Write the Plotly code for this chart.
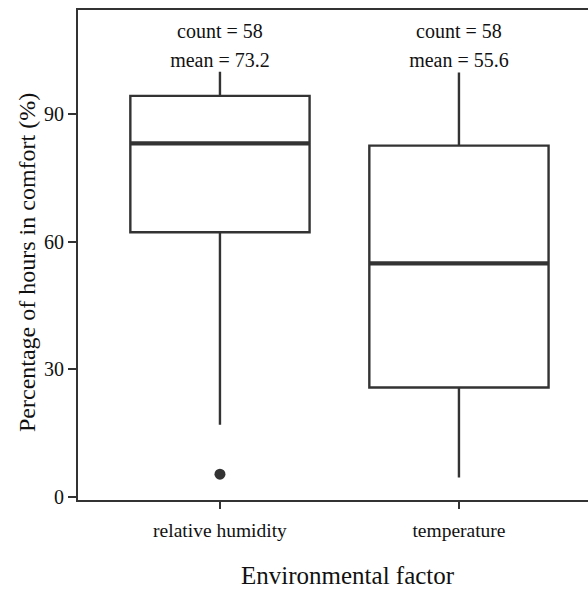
import plotly.graph_objects as go

categories = ["relative humidity", "temperature"]
q1 = [62.2, 25.7]
medians = [83.1, 54.9]
q3 = [94.3, 82.6]
lower_whisker = [16.9, 4.5]
upper_whisker = [100.0, 99.8]
outliers = [[5.3], []]
counts = [58, 58]
means = [73.2, 55.6]
y_ticks = [0, 30, 60, 90]

FONT = "Liberation Serif"
LINE = "#333333"
TXT = "#111111"
BOX_W = 0.75

fig = go.Figure()
for i, cat in enumerate(categories):
    fig.add_trace(go.Box(
        x=[i], q1=[q1[i]], median=[medians[i]], q3=[q3[i]],
        lowerfence=[lower_whisker[i]], upperfence=[upper_whisker[i]],
        width=BOX_W, whiskerwidth=0, fillcolor="white",
        line=dict(color=LINE, width=2.4), boxpoints=False,
        showlegend=False, hoverinfo="skip"))
    # thick median line
    fig.add_trace(go.Scatter(
        x=[i - BOX_W / 2, i + BOX_W / 2], y=[medians[i], medians[i]],
        mode="lines", line=dict(color=LINE, width=4.2),
        showlegend=False, hoverinfo="skip"))
    if outliers[i]:
        fig.add_trace(go.Scatter(
            x=[i] * len(outliers[i]), y=outliers[i], mode="markers",
            marker=dict(color=LINE, size=11), showlegend=False, hoverinfo="skip"))

# count / mean labels
fig.add_trace(go.Scatter(
    x=list(range(len(categories))), y=[109] * len(categories),
    text=[f"count = {c}" for c in counts], mode="text",
    textfont=dict(family=FONT, size=20, color=TXT),
    showlegend=False, hoverinfo="skip"))
fig.add_trace(go.Scatter(
    x=list(range(len(categories))), y=[102.2] * len(categories),
    text=[f"mean = {m}" for m in means], mode="text",
    textfont=dict(family=FONT, size=20, color=TXT),
    showlegend=False, hoverinfo="skip"))

fig.update_layout(
    width=588, height=589,
    margin=dict(l=78, r=0, t=10, b=89),
    paper_bgcolor="white", plot_bgcolor="white",
    font=dict(family=FONT, color=TXT),
    xaxis=dict(
        range=[-0.594, 1.54], tickmode="array", tickvals=list(range(len(categories))),
        ticktext=categories, showgrid=False, zeroline=False,
        showline=True, linecolor=LINE, linewidth=2, mirror=True,
        ticks="outside", ticklen=7, tickwidth=2, tickcolor=LINE,
        tickfont=dict(family=FONT, size=19.5, color=TXT),
        ticklabelstandoff=5),
    yaxis=dict(
        range=[-0.78, 114.5], tickmode="array", tickvals=y_ticks,
        showgrid=False, zeroline=False,
        showline=True, linecolor=LINE, linewidth=2,
        ticks="outside", ticklen=8, tickwidth=2, tickcolor=LINE,
        tickfont=dict(family=FONT, size=20, color=TXT)),
    annotations=[
        dict(text="Environmental factor", xref="paper", yref="paper",
             x=(348 - 78) / 510, y=-(575 - 500) / 490, showarrow=False,
             xanchor="center", yanchor="middle",
             font=dict(family=FONT, size=25, color=TXT)),
        dict(text="Percentage of hours in comfort (%)", xref="paper", yref="paper",
             x=-(78 - 27) / 510, y=(500 - 263) / 490, showarrow=False, textangle=-90,
             xanchor="center", yanchor="middle",
             font=dict(family=FONT, size=24, color=TXT)),
    ],
)

fig.write_html("out.html")
